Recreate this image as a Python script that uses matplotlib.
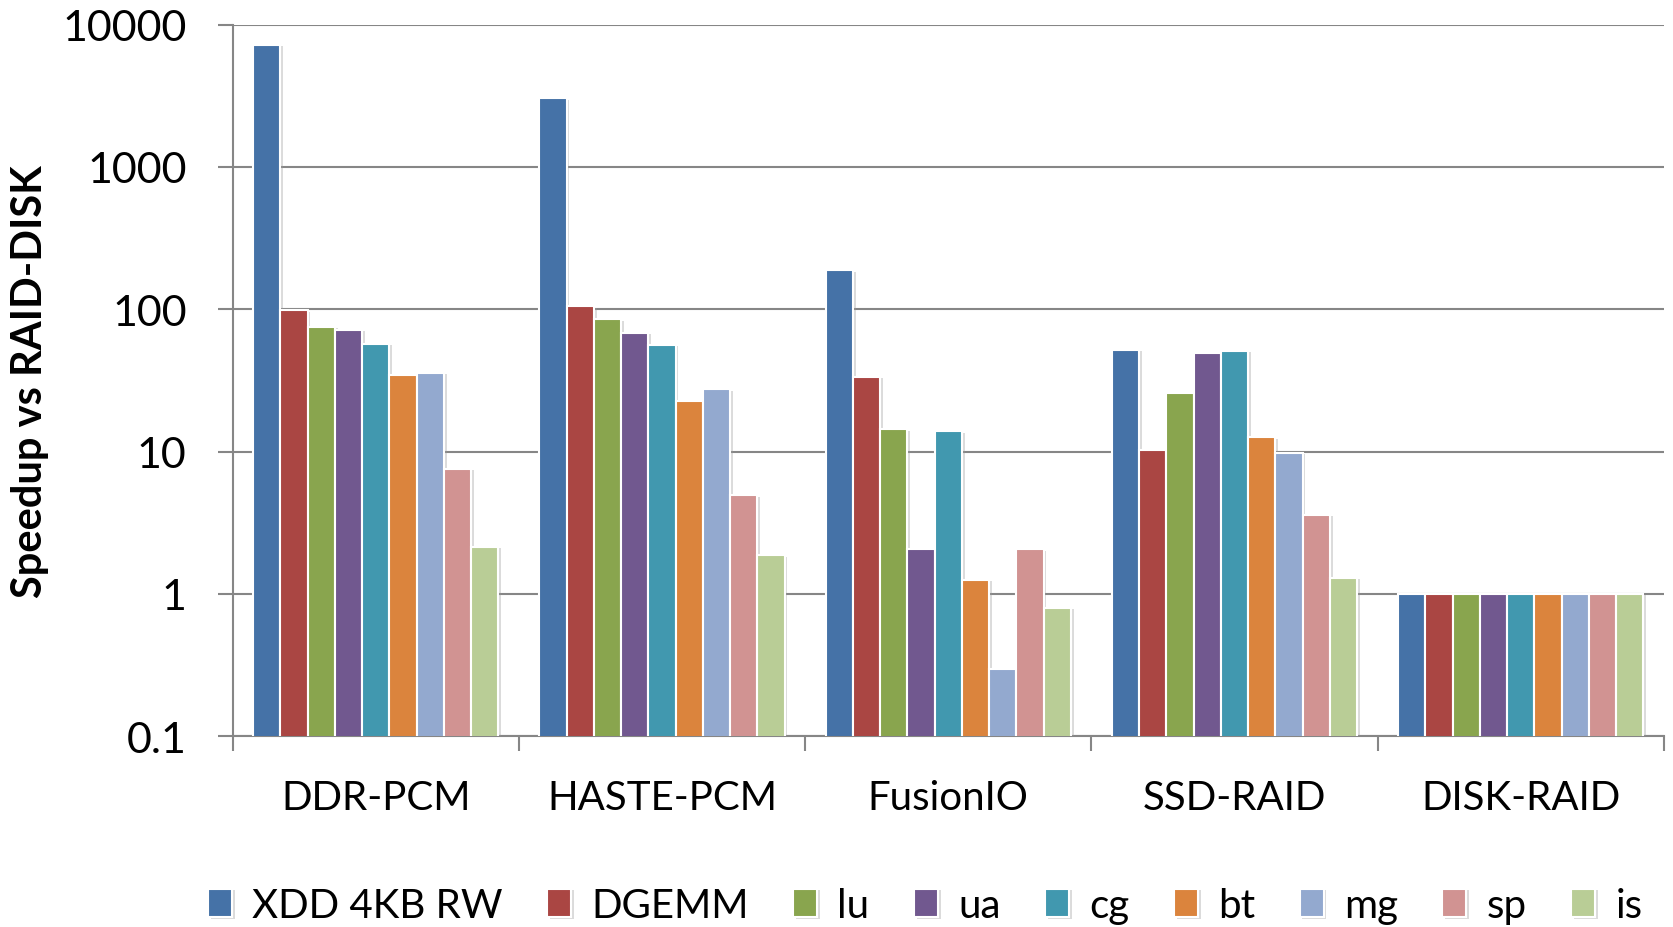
import matplotlib
matplotlib.use("Agg")
import matplotlib.pyplot as plt
import matplotlib.patheffects as pe
import numpy as np

# speedup vs RAID-DISK
systems = ["DDR-PCM", "HASTE-PCM", "FusionIO", "SSD-RAID", "DISK-RAID"]
benchmarks = ["XDD 4KB RW", "DGEMM", "lu", "ua", "cg", "bt", "mg", "sp", "is"]
xdd   = [7200, 3040, 188, 51.8, 1]
dgemm = [98, 105, 33.4, 10.3, 1]
lu    = [75, 85, 14.3, 25.8, 1]
ua    = [72, 68.2, 2.06, 49.6, 1]
cg    = [57.4, 56.5, 13.9, 50.9, 1]
bt    = [34.7, 22.7, 1.26, 12.6, 1]
mg    = [35.8, 27.4, 0.296, 9.8, 1]
sp    = [7.57, 4.92, 2.06, 3.58, 1]
is_   = [2.14, 1.87, 0.797, 1.30, 1]
series = [xdd, dgemm, lu, ua, cg, bt, mg, sp, is_]

colors = ["#4572A7", "#AA4643", "#89A54E", "#71588F", "#4198AF",
          "#DB843D", "#93A9CF", "#D19392", "#B9CD96"]

plt.rcParams['font.family'] = ['Lato', 'DejaVu Sans']

fig = plt.figure(figsize=(16.73, 9.28), dpi=100)
ax = fig.add_axes([0.139, 0.2055, 0.8556, 0.767])

x = np.arange(len(systems))
w = 0.857 / len(benchmarks)
shadow = [pe.SimplePatchShadow(offset=(2, -1), shadow_rgbFace='#999999', alpha=0.35), pe.Normal()]
for i, (name, vals) in enumerate(zip(benchmarks, series)):
    pos = x - 0.857 / 2 + w * (i + 0.5)
    ax.bar(pos, vals, width=w, color=colors[i], edgecolor='white', linewidth=1.5,
           label=name, zorder=3, path_effects=shadow)

ax.set_yscale('log')
ax.set_ylim(0.1, 10000)
ax.set_xlim(-0.5, len(systems) - 0.5)
yt = [0.1, 1, 10, 100, 1000, 10000]
ax.set_yticks(yt)
ax.set_yticklabels(["0.1", "1", "10", "100", "1000", "10000"], fontsize=31)
ax.yaxis.set_minor_locator(matplotlib.ticker.NullLocator())
ax.tick_params(axis='y', direction='out', length=11, width=1.5, color='#868686', pad=22)
ax.grid(axis='y', color='#868686', linewidth=1.5, zorder=0)

ax.set_xticks(x)
ax.set_xticklabels(systems, fontsize=29)
ax.set_xticks(np.arange(len(systems) + 1) - 0.5, minor=True)
ax.tick_params(axis='x', which='major', length=0, pad=31)
ax.tick_params(axis='x', which='minor', direction='out', length=11, width=1.5, color='#868686')

for s in ['top', 'right']:
    ax.spines[s].set_visible(False)
for s in ['left', 'bottom']:
    ax.spines[s].set_color('#868686')
    ax.spines[s].set_linewidth(1.5)

ax.set_ylabel("Speedup vs RAID-DISK", fontsize=30, fontweight='bold')
ax.yaxis.set_label_coords(-0.128, 0.5)

leg = fig.legend(loc='center', bbox_to_anchor=(0.553, 0.023), ncol=9, fontsize=29,
                 frameon=False, handlelength=0.6, handleheight=0.7, handletextpad=0.5,
                 columnspacing=1.1)

fig.savefig("out.png", dpi=100)
